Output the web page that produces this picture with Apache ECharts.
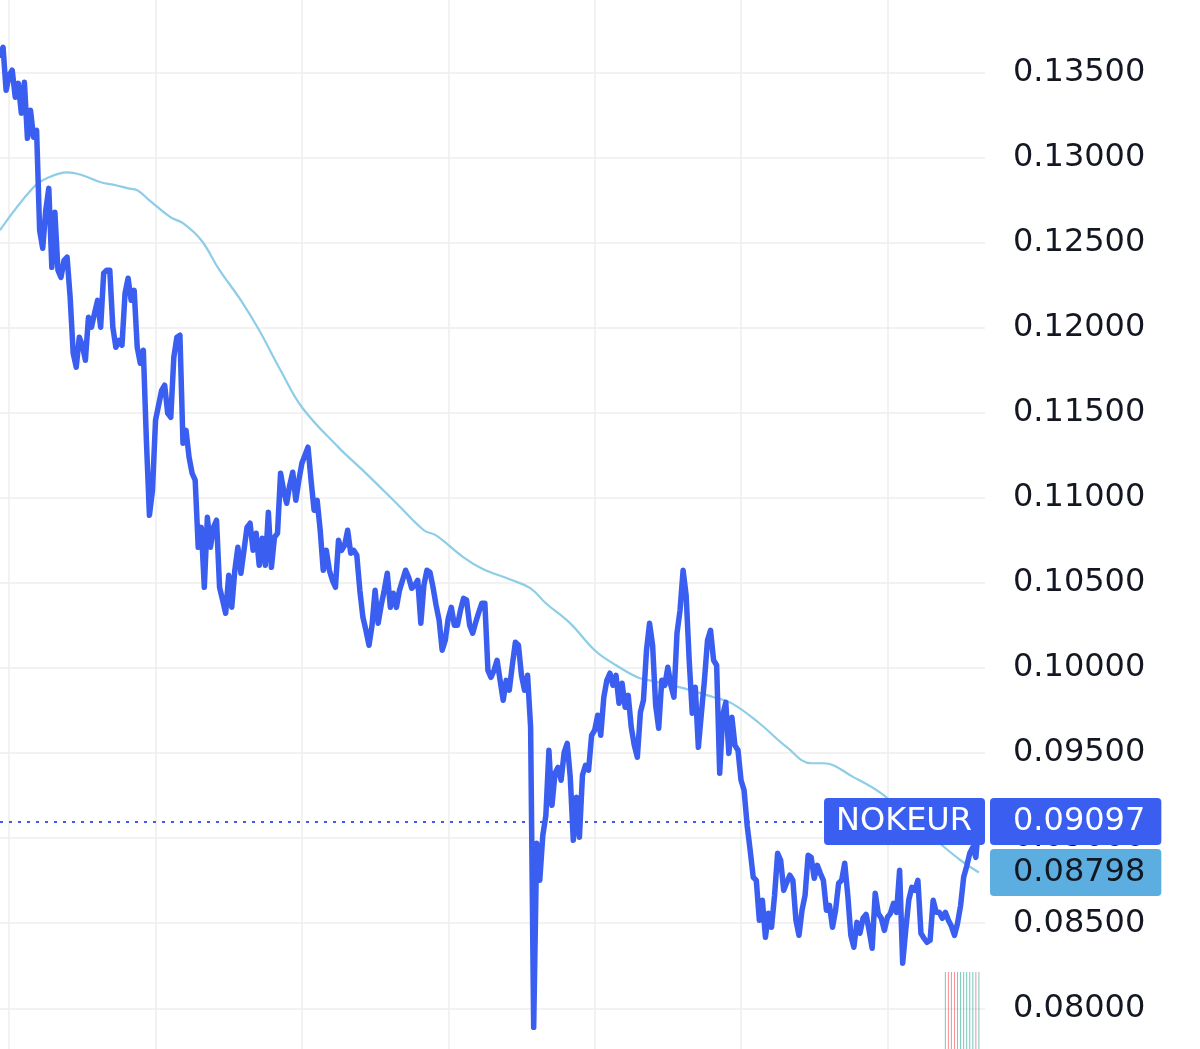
<!DOCTYPE html>
<html><head><meta charset="utf-8">
<script src="https://cdn.jsdelivr.net/npm/echarts@6/dist/echarts.min.js"></script>
<style>html,body{margin:0;padding:0;background:#fff}#c{width:1200px;height:1049px}</style>
</head><body><div id="c"></div>
<script>
const symbolName = 'NOKEUR';
const categoryCount = 324;
const price = [
0.13600,0.13647,0.13394,0.13482,0.13512,0.13353,0.13435,0.13259,0.13441,0.13112,
0.13277,0.13118,0.13159,0.12572,0.12466,0.12689,0.12818,0.12354,0.12677,0.12337,
0.12295,0.12395,0.12413,0.12178,0.11849,0.11767,0.11943,0.11896,0.11808,0.12060,
0.12002,0.12084,0.12160,0.12002,0.12319,0.12337,0.12337,0.12002,0.11884,0.11925,
0.11896,0.12201,0.12290,0.12160,0.12219,0.11884,0.11790,0.11867,0.11338,0.10897,
0.11044,0.11455,0.11543,0.11631,0.11661,0.11496,0.11473,0.11825,0.11943,0.11955,
0.11320,0.11396,0.11238,0.11144,0.11103,0.10709,0.10826,0.10474,0.10885,0.10709,
0.10826,0.10868,0.10474,0.10398,0.10321,0.10544,0.10356,0.10574,0.10709,0.10556,
0.10691,0.10826,0.10850,0.10691,0.10791,0.10603,0.10762,0.10603,0.10915,0.10591,
0.10768,0.10791,0.11144,0.11044,0.10968,0.11073,0.11150,0.10985,0.11103,0.11203,
0.11250,0.11297,0.11103,0.10926,0.10985,0.10809,0.10574,0.10691,0.10574,0.10515,
0.10474,0.10750,0.10691,0.10721,0.10809,0.10674,0.10691,0.10662,0.10456,0.10298,
0.10221,0.10133,0.10251,0.10456,0.10262,0.10368,0.10456,0.10556,0.10356,0.10439,
0.10356,0.10456,0.10515,0.10574,0.10533,0.10468,0.10486,0.10515,0.10262,0.10486,
0.10574,0.10562,0.10474,0.10368,0.10280,0.10104,0.10162,0.10292,0.10356,0.10251,
0.10251,0.10339,0.10409,0.10398,0.10251,0.10204,0.10268,0.10327,0.10380,0.10380,
0.09986,0.09945,0.09986,0.10045,0.09927,0.09810,0.09927,0.09869,0.10016,0.10151,
0.10133,0.09957,0.09869,0.09957,0.09651,0.07888,0.08970,0.08752,0.09017,0.09134,
0.09516,0.09193,0.09381,0.09416,0.09340,0.09504,0.09557,0.09357,0.08987,0.09240,
0.09005,0.09369,0.09428,0.09399,0.09604,0.09634,0.09722,0.09604,0.09828,0.09927,
0.09969,0.09898,0.09957,0.09792,0.09910,0.09769,0.09839,0.09651,0.09545,0.09475,
0.09739,0.09810,0.10104,0.10262,0.10133,0.09781,0.09645,0.09927,0.09898,0.10004,
0.09898,0.09828,0.10204,0.10339,0.10574,0.10427,0.10045,0.09734,0.09886,0.09534,
0.09734,0.09927,0.10162,0.10221,0.10045,0.10016,0.09381,0.09722,0.09798,0.09498,
0.09710,0.09545,0.09516,0.09340,0.09281,0.09075,0.08928,0.08770,0.08752,0.08517,
0.08635,0.08417,0.08558,0.08476,0.08664,0.08911,0.08870,0.08693,0.08740,0.08782,
0.08752,0.08517,0.08429,0.08576,0.08664,0.08899,0.08887,0.08764,0.08840,0.08793,
0.08752,0.08576,0.08605,0.08476,0.08576,0.08735,0.08752,0.08852,0.08664,0.08429,
0.08359,0.08505,0.08441,0.08529,0.08552,0.08458,0.08353,0.08676,0.08558,0.08529,
0.08458,0.08535,0.08558,0.08617,0.08564,0.08811,0.08265,0.08458,0.08635,0.08711,
0.08693,0.08752,0.08441,0.08411,0.08388,0.08400,0.08635,0.08564,0.08564,0.08529,
0.08564,0.08517,0.08482,0.08429,0.08500,0.08605,0.08770,0.08835,0.08911,0.08946,
0.08887,0.09097
];
const maIndex = [0,11,16,22,27,33,38,42,45,49,56,60,66,72,79,85,92,99,111,119,130,139,143,152,158,168,174,179,187,195,201,209,213,223,234,240,249,258,266,270,280,289,298,307,315,321];
const maValue = [0.12572,0.12824,0.12883,0.12912,0.12895,0.12854,0.12836,0.12818,0.12807,0.12748,0.12648,0.12613,0.12513,0.12337,0.12160,0.11984,0.11749,0.11532,0.11296,0.11161,0.10968,0.10809,0.10779,0.10650,0.10585,0.10515,0.10468,0.10380,0.10262,0.10104,0.10027,0.09945,0.09927,0.09886,0.09828,0.09792,0.09675,0.09534,0.09440,0.09440,0.09357,0.09263,0.09122,0.08987,0.08870,0.08798];
const lastPrice = 0.09097;
const lastMA = 0.08798;
const yMin = 0.075, yMax = 0.140, yStep = 0.005;
const volumeStart = 310;
const volumeValues = [1,1,1,1,1,1,1,1,1,1,1,1];

const categories = Array.from({length: categoryCount}, (_, i) => 'D' + i);
const maData = maIndex.map((k, i) => [k, maValue[i]]);
const volumeData = categories.map((_, k) => {
  const j = k - volumeStart;
  if (j < 0 || j >= volumeValues.length) return null;
  const up = price[k] >= price[k - 1];
  return { value: volumeValues[j], itemStyle: { color: up ? 'rgba(8,153,129,0.55)' : 'rgba(242,54,69,0.55)' } };
});

const FONT = '"DejaVu Sans", sans-serif';
const FS = 32;
const BLUE = '#3a5ef0';
const NONE = 'rgba(0,0,0,0)';
const chart = echarts.init(document.getElementById('c'), null, {renderer: 'canvas'});
chart.setOption({
  animation: false,
  backgroundColor: '#ffffff',
  grid: [
    { left: 0, right: 215, top: -12.8, bottom: -44.4, containLabel: false, outerBoundsMode: 'none' },
    { left: 0, right: 215, bottom: 0, height: 77, containLabel: false, outerBoundsMode: 'none' }
  ],
  xAxis: [
    { type: 'category', data: categories, boundaryGap: false, gridIndex: 0,
      axisLine: {show: false}, axisTick: {show: false}, axisLabel: {show: false},
      splitLine: { show: true, interval: (i) => (i - 3) % 48 === 0, lineStyle: { color: '#eeeeee', width: 1.5 } } },
    { type: 'category', data: categories, boundaryGap: false, gridIndex: 1, show: false }
  ],
  yAxis: [
    { type: 'value', position: 'right', min: yMin, max: yMax, interval: yStep, gridIndex: 0,
      axisLine: {show: false}, axisTick: {show: false},
      splitLine: { show: true, lineStyle: { color: '#eeeeee', width: 1.5 } },
      axisLabel: { show: true, margin: 28, color: '#131722', fontSize: FS, fontFamily: FONT,
        formatter: (v) => v.toFixed(5) } },
    { type: 'value', min: 0, max: 1, gridIndex: 1, show: false }
  ],
  series: [
    { name: 'MA', type: 'line', data: maData, smooth: 0.4, symbol: 'none', z: 2,
      lineStyle: { color: '#8ecde6', width: 2.2 },
      markLine: { silent: true, symbol: ['none', 'none'], animation: false, precision: 5, z: 6,
        data: [{ yAxis: lastMA, lineStyle: { color: NONE, width: 0 },
          label: { show: true, position: 'end', distance: 5, formatter: () => lastMA.toFixed(5),
            color: '#131722', backgroundColor: '#5daee0', fontSize: FS, fontFamily: FONT,
            lineHeight: 33, padding: [7, 16, 7, 23], borderRadius: 4 } }] } },
    { name: symbolName, type: 'line', data: price, symbol: 'none', z: 3,
      lineStyle: { color: BLUE, width: 5.5, join: 'round', cap: 'round' },
      markLine: { silent: true, symbol: ['none', 'none'], animation: false, precision: 5, z: 7,
        data: [
          { yAxis: lastPrice, lineStyle: { color: BLUE, type: [3, 6], width: 2 },
            label: { show: true, position: 'end', distance: 5, formatter: () => lastPrice.toFixed(5),
              color: '#ffffff', backgroundColor: BLUE, fontSize: FS, fontFamily: FONT,
              lineHeight: 33, padding: [7, 16, 7, 23], borderRadius: 4 } },
          { yAxis: lastPrice, lineStyle: { color: NONE, width: 0 },
            label: { show: true, position: 'insideEndTop', distance: [0, 0], align: 'right', verticalAlign: 'middle',
              formatter: () => symbolName,
              color: '#ffffff', backgroundColor: BLUE, fontSize: FS, fontFamily: FONT,
              lineHeight: 33, padding: [7, 13, 7, 12], borderRadius: 4 } }
        ] } },
    { name: 'Volume', type: 'bar', xAxisIndex: 1, yAxisIndex: 1, data: volumeData, barWidth: 1, z: 1 }
  ]
});
</script></body></html>
